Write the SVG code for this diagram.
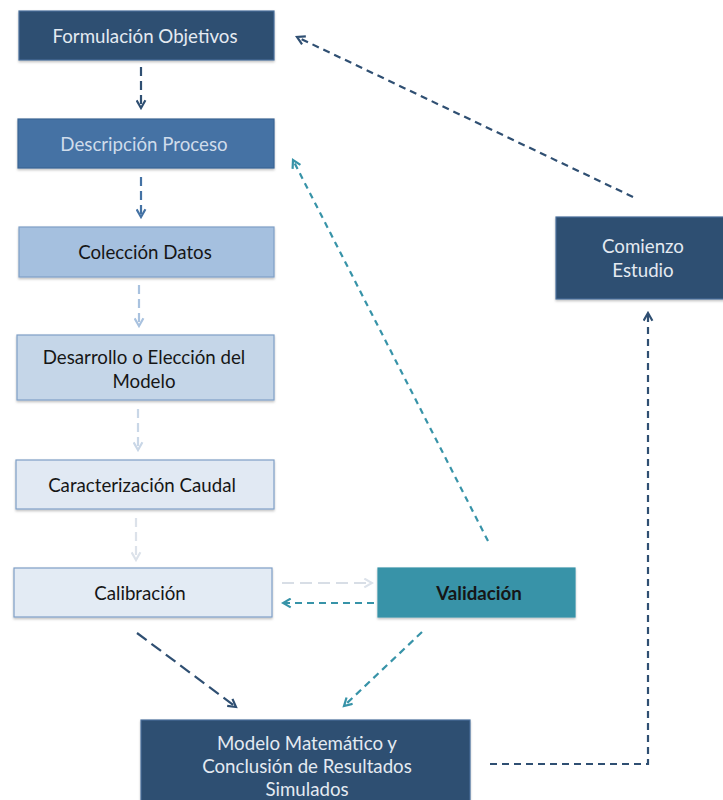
<svg xmlns="http://www.w3.org/2000/svg" width="723" height="800" viewBox="0 0 723 800">
<defs>
<style>
.box{stroke-width:1.2}
.t{font-family:Lato,"Open Sans","Liberation Sans",sans-serif;font-size:18.7px;text-anchor:middle}
.lt{fill:#E4EAF1}
.dk{fill:#161616}
.c{fill:none;stroke-width:2.2}
</style>
<filter id="sh" x="-5%" y="-5%" width="110%" height="120%">
<feDropShadow dx="0" dy="1.5" stdDeviation="1.2" flood-color="#000" flood-opacity="0.25"/>
</filter>
<marker id="mNavy" viewBox="0 0 10 10" refX="8" refY="5" markerWidth="5" markerHeight="5" orient="auto" markerUnits="strokeWidth"><path d="M1,1 L8,5 L1,9" fill="none" stroke="#2F4F72" stroke-width="2"/></marker>
<marker id="mBlue" viewBox="0 0 10 10" refX="8" refY="5" markerWidth="5" markerHeight="5" orient="auto" markerUnits="strokeWidth"><path d="M1,1 L8,5 L1,9" fill="none" stroke="#4472A4" stroke-width="2"/></marker>
<marker id="mLb" viewBox="0 0 10 10" refX="8" refY="5" markerWidth="5" markerHeight="5" orient="auto" markerUnits="strokeWidth"><path d="M1,1 L8,5 L1,9" fill="none" stroke="#A9C2DF" stroke-width="2"/></marker>
<marker id="mPale" viewBox="0 0 10 10" refX="8" refY="5" markerWidth="5" markerHeight="5" orient="auto" markerUnits="strokeWidth"><path d="M1,1 L8,5 L1,9" fill="none" stroke="#C9D7E7" stroke-width="2"/></marker>
<marker id="mGray" viewBox="0 0 10 10" refX="8" refY="5" markerWidth="5" markerHeight="5" orient="auto" markerUnits="strokeWidth"><path d="M1,1 L8,5 L1,9" fill="none" stroke="#DCE2EA" stroke-width="2"/></marker>
<marker id="mTeal" viewBox="0 0 10 10" refX="8" refY="5" markerWidth="5" markerHeight="5" orient="auto" markerUnits="strokeWidth"><path d="M1,1 L8,5 L1,9" fill="none" stroke="#3793A8" stroke-width="2"/></marker>
</defs>
<rect width="723" height="800" fill="#fff"/>
<g id="connectors">
<line class="c" x1="141" y1="67" x2="141" y2="108" stroke="#2F4F72" stroke-dasharray="9,5" marker-end="url(#mNavy)"/>
<line class="c" x1="141" y1="177" x2="141" y2="217" stroke="#4472A4" stroke-dasharray="9,5" marker-end="url(#mBlue)"/>
<line class="c" x1="139" y1="285" x2="139" y2="326" stroke="#A9C2DF" stroke-dasharray="9,5" marker-end="url(#mLb)"/>
<line class="c" x1="138" y1="409" x2="138" y2="450" stroke="#C9D7E7" stroke-dasharray="9,5" marker-end="url(#mPale)"/>
<line class="c" x1="136" y1="518" x2="136" y2="560" stroke="#DCE2EA" stroke-dasharray="9,5" marker-end="url(#mGray)"/>
<line class="c" x1="282" y1="583" x2="372" y2="583" stroke="#D8DEE6" stroke-dasharray="12,6" marker-end="url(#mGray)"/>
<line class="c" x1="374" y1="603" x2="283" y2="603" stroke="#3793A8" stroke-dasharray="7,5" marker-end="url(#mTeal)"/>
<line class="c" x1="488" y1="541" x2="293" y2="160" stroke="#3793A8" stroke-dasharray="6,5" marker-end="url(#mTeal)"/>
<line class="c" x1="633" y1="197" x2="297" y2="37" stroke="#2F4F72" stroke-dasharray="7,5" marker-end="url(#mNavy)"/>
<line class="c" x1="137" y1="633" x2="236" y2="707" stroke="#2F4F72" stroke-dasharray="12,6" marker-end="url(#mNavy)"/>
<line class="c" x1="422" y1="632" x2="344" y2="706" stroke="#3793A8" stroke-dasharray="7,5" marker-end="url(#mTeal)"/>
<polyline class="c" points="490,764 648,764 648,313" stroke="#2F4F72" stroke-dasharray="7,5" marker-end="url(#mNavy)"/>
</g>
<g id="formulacion">
<rect class="box" x="19" y="11" width="255" height="49" fill="#2F4F72" stroke="#4A6F9A" filter="url(#sh)"/>
<text class="t lt" x="145" y="43">Formulación Objetivos</text>
</g>
<g id="descripcion">
<rect class="box" x="18" y="119" width="256" height="49" fill="#4472A4" stroke="#3A6594" filter="url(#sh)"/>
<text class="t" x="144" y="151" fill="#CFDCEB">Descripción Proceso</text>
</g>
<g id="coleccion">
<rect class="box" x="19" y="227" width="255" height="50" fill="#A5C0DF" stroke="#7F9FC6" filter="url(#sh)"/>
<text class="t dk" x="145" y="259">Colección Datos</text>
</g>
<g id="desarrollo">
<rect class="box" x="17" y="335" width="257" height="65" fill="#C5D6E8" stroke="#7F9FC6" filter="url(#sh)"/>
<text class="t dk" x="144" y="364">Desarrollo o Elección del</text>
<text class="t dk" x="144" y="388">Modelo</text>
</g>
<g id="caracterizacion">
<rect class="box" x="16" y="460" width="258" height="49" fill="#E1E9F3" stroke="#7F9FC6" filter="url(#sh)"/>
<text class="t dk" x="142" y="492">Caracterización Caudal</text>
</g>
<g id="calibracion">
<rect class="box" x="14" y="568" width="258" height="49" fill="#E3EBF4" stroke="#7F9FC6" filter="url(#sh)"/>
<text class="t dk" x="140" y="600">Calibración</text>
</g>
<g id="validacion">
<rect class="box" x="378" y="568" width="197" height="49" fill="#3793A8" stroke="#3793A8" filter="url(#sh)"/>
<text class="t dk" x="479" y="600" font-weight="bold">Validación</text>
</g>
<g id="comienzo">
<rect class="box" x="556" y="217" width="170" height="82" fill="#2F4F72" stroke="#4A6F9A" filter="url(#sh)"/>
<text class="t lt" x="643" y="253">Comienzo</text>
<text class="t lt" x="643" y="277">Estudio</text>
</g>
<g id="modelo">
<rect class="box" x="141" y="720" width="329" height="90" fill="#2F4F72" stroke="#4A6F9A" filter="url(#sh)"/>
<text class="t lt" x="307" y="750">Modelo Matemático y</text>
<text class="t lt" x="307" y="773">Conclusión de Resultados</text>
<text class="t lt" x="307" y="796">Simulados</text>
</g>
</svg>
